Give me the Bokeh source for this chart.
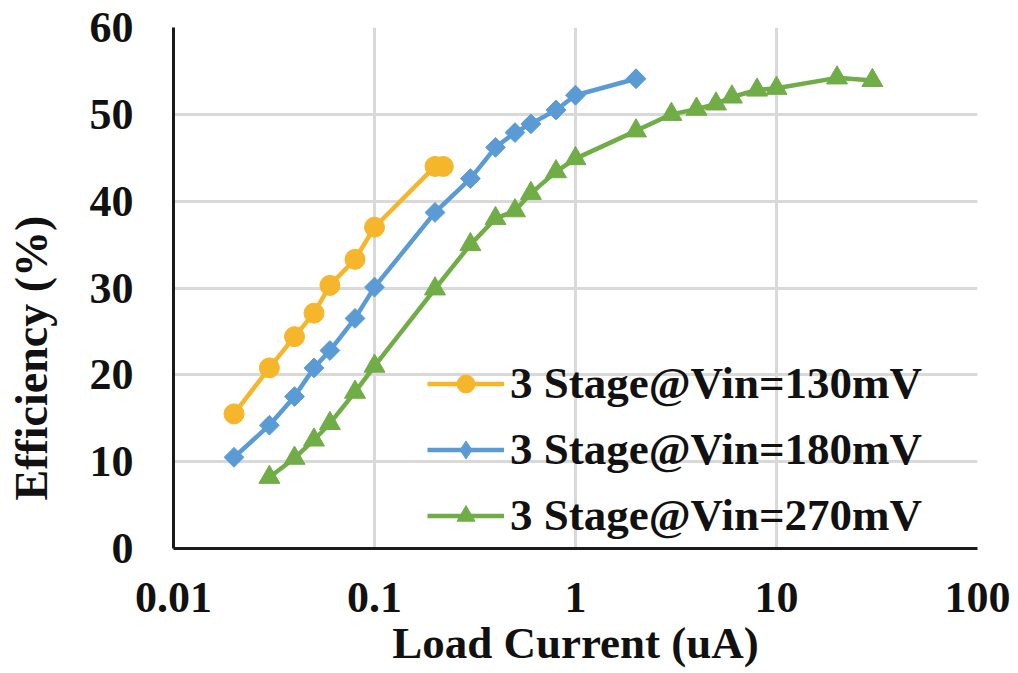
import math
from bokeh.plotting import figure
from bokeh.models import FixedTicker, Legend, LegendItem, Title, Range1d
from bokeh.embed import file_html
from bokeh.resources import INLINE

# ---- data ----
x_130 = [0.02, 0.03, 0.04, 0.05, 0.06, 0.08, 0.1, 0.2, 0.22]
y_130 = [15.5, 20.8, 24.4, 27.1, 30.3, 33.3, 37.0, 44.0, 44.0]

x_180 = [0.02, 0.03, 0.04, 0.05, 0.06, 0.08, 0.1, 0.2, 0.3, 0.4, 0.5, 0.6, 0.8, 1, 2]
y_180 = [10.5, 14.2, 17.5, 20.8, 22.8, 26.5, 30.1, 38.7, 42.6, 46.2, 47.9, 48.9, 50.5, 52.2, 54.1]

x_270 = [0.03, 0.04, 0.05, 0.06, 0.08, 0.1, 0.2, 0.3, 0.4, 0.5, 0.6, 0.8, 1, 2, 3, 4, 5, 6, 8, 10, 20, 30]
y_270 = [8.2, 10.4, 12.5, 14.4, 18.0, 21.0, 29.9, 35.0, 38.0, 38.9, 40.9, 43.4, 44.9, 48.1, 50.0, 50.6, 51.2, 52.0, 52.8, 53.0, 54.2, 53.9]

series_names = ["3 Stage@Vin=130mV", "3 Stage@Vin=180mV", "3 Stage@Vin=270mV"]
x_ticks = [0.01, 0.1, 1, 10, 100]
x_tick_labels = ["0.01", "0.1", "1", "10", "100"]
y_ticks = [0, 10, 20, 30, 40, 50, 60]

FONT = "Liberation Serif"
COLORS = ["#F5B62B", "#5B9BD5", "#70AD47"]

p = figure(width=1018, height=673, x_axis_type="log",
           x_range=Range1d(0.01, 100), y_range=Range1d(0, 60),
           output_backend="svg", toolbar_location=None,
           min_border_left=173, min_border_right=41,
           min_border_top=27, min_border_bottom=125)
p.outline_line_color = None
p.background_fill_color = "white"
p.border_fill_color = "white"

# grids
for g in (p.xgrid, p.ygrid):
    g.grid_line_color = "#D9D9D9"
    g.grid_line_width = 3
p.xgrid.ticker = FixedTicker(ticks=x_ticks)
p.ygrid.ticker = FixedTicker(ticks=y_ticks)

# axes
p.xaxis.ticker = FixedTicker(ticks=x_ticks)
p.xaxis.major_label_overrides = {t: l for t, l in zip(x_ticks, x_tick_labels)}
p.yaxis.ticker = FixedTicker(ticks=y_ticks)
for ax in (p.xaxis, p.yaxis):
    ax.axis_line_color = "#1a1a1a"
    ax.axis_line_width = 3
    ax.major_tick_line_color = None
    ax.minor_tick_line_color = None
    ax.major_tick_out = 0
    ax.major_tick_in = 0
    ax.major_label_text_font = FONT
    ax.major_label_text_font_style = "bold"
    ax.major_label_text_font_size = "44px"
    ax.major_label_text_color = "#111111"
p.yaxis.major_label_standoff = 40
p.xaxis.major_label_standoff = 34

p.xaxis.axis_label = "Load Current (uA)"
p.xaxis.axis_label_text_font = FONT
p.xaxis.axis_label_text_font_style = "bold"
p.xaxis.axis_label_text_font_size = "45px"
p.xaxis.axis_label_text_color = "#111111"
p.xaxis.axis_label_standoff = 3

# spacer between the y axis and its title, then the title itself
spacer = Title(text=" ", text_font_size="1px", standoff=27)
p.add_layout(spacer, "left")
ytitle = Title(text="Efficiency (%)", align="left", offset=48, standoff=0,
               text_font=FONT, text_font_style="bold", text_font_size="46px",
               text_color="#111111")
p.add_layout(ytitle, "left")

items = []
# (xs, ys, plot marker, angle, size, legend marker)
datasets = [(x_130, y_130, "circle", 0.0, 20, "circle"),
            (x_180, y_180, "square", math.pi / 4, 14, "diamond"),
            (x_270, y_270, "triangle", 0.0, 21, "triangle")]
for (xs, ys, mk, ang, sz, lmk), c, name in zip(datasets, COLORS, series_names):
    r1 = p.line(xs, ys, line_color=c, line_width=4.5)
    if lmk != mk:
        # legend-shape renderer, drawn small underneath the plotted markers
        rl = p.scatter(xs, ys, marker=lmk, size=12, fill_color=c, line_color=c)
    r2 = p.scatter(xs, ys, marker=mk, size=sz, angle=ang, fill_color=c, line_color=c)
    if lmk == mk:
        rl = r2
    items.append(LegendItem(label=name, renderers=[r1, rl]))

legend = Legend(items=items, location=(254, 7),
                label_text_font=FONT, label_text_font_style="bold",
                label_text_font_size="45px", label_text_color="#111111",
                glyph_width=77, glyph_height=45, label_standoff=6,
                spacing=14, padding=0, margin=0,
                border_line_color=None, background_fill_alpha=0)
p.add_layout(legend)

open("out.html", "w").write(file_html(p, INLINE))
